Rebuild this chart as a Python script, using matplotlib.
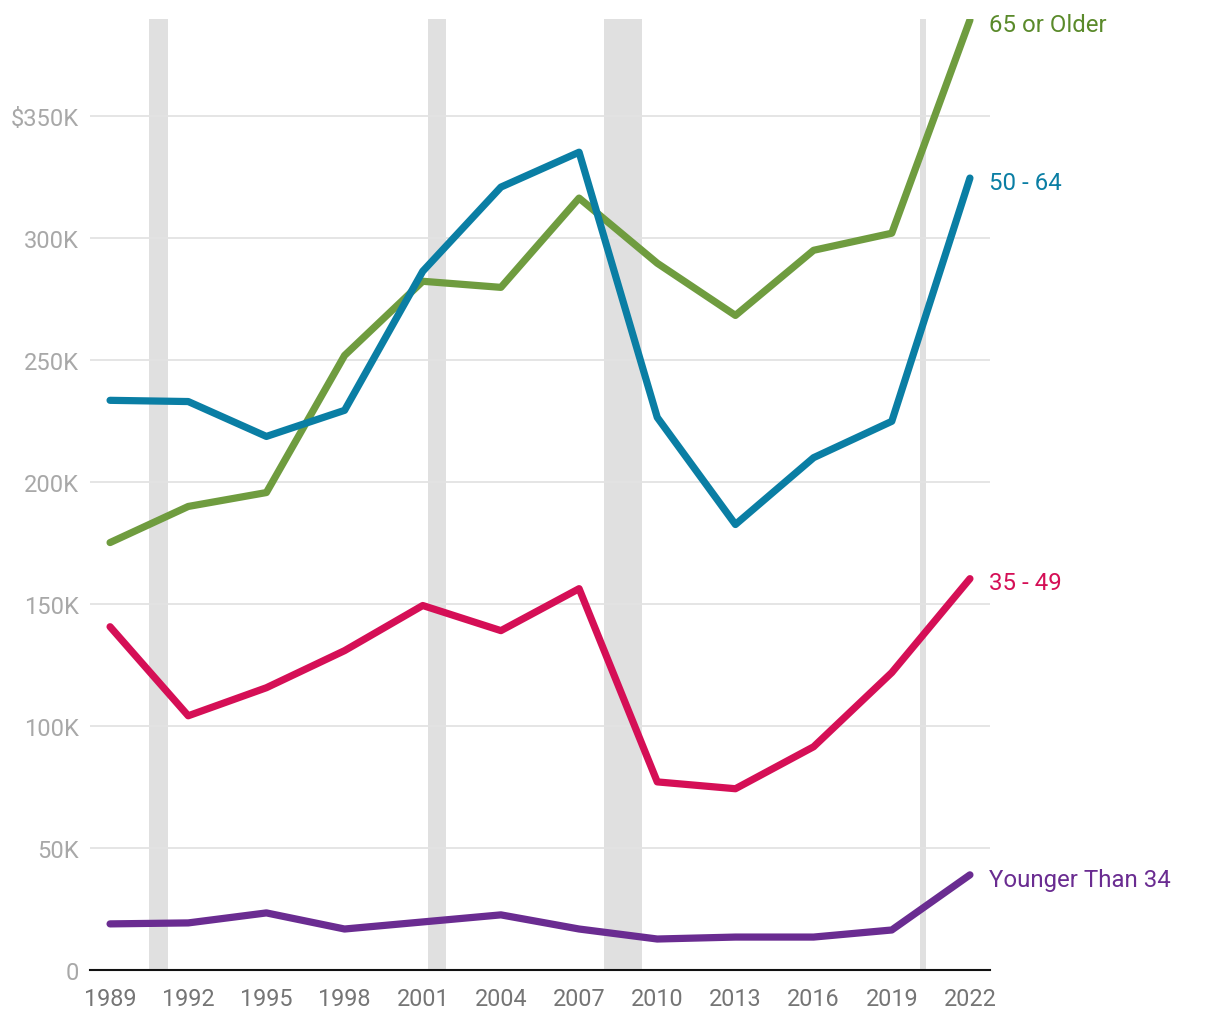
import matplotlib.pyplot as plt

plt.rcParams['font.family'] = ['Roboto', 'DejaVu Sans']

years = [1989, 1992, 1995, 1998, 2001, 2004, 2007, 2010, 2013, 2016, 2019, 2022]

older_65 = [175.2, 190.0, 195.7, 251.9, 282.3, 279.8, 316.4, 289.7, 268.3, 295.0, 302.0, 389.4]
age_50_64 = [233.5, 233.0, 218.7, 229.4, 286.4, 320.9, 335.2, 226.5, 182.6, 210.0, 224.9, 324.6]
age_35_49 = [140.7, 104.2, 115.7, 130.9, 149.4, 139.1, 156.3, 77.1, 74.3, 91.5, 121.9, 160.4]
under_34 = [18.9, 19.3, 23.4, 16.8, 19.7, 22.6, 16.8, 12.7, 13.5, 13.5, 16.4, 39.0]

series_names = ['65 or Older', '50 - 64', '35 - 49', 'Younger Than 34']
series_colors = ['#6f9c3f', '#0a7ea4', '#d50f56', '#6a2c91']
label_colors = ['#5a8a2a', '#0a7ea4', '#d50f56', '#6a2c91']

# recessions (start, end) in fractional years
recessions = [(1990.5, 1991.23), (2001.2, 2001.9), (2007.95, 2009.42), (2020.08, 2020.3)]

yticks = [0, 50, 100, 150, 200, 250, 300, 350]
ytick_labels = ['0', '50K', '100K', '150K', '200K', '250K', '300K', '$350K']

fig = plt.figure(figsize=(12.2, 10.2), dpi=100)
ax = fig.add_axes([90 / 1220, 1 - 971 / 1020, 900 / 1220, 951 / 1020])

for start, end in recessions:
    ax.axvspan(start, end, color='#e0e0e0', lw=0, zorder=0)

for y in yticks[1:]:
    ax.axhline(y, color='#e3e3e3', lw=1.3, zorder=1)

all_series = [older_65, age_50_64, age_35_49, under_34]
for vals, name, c, lc in zip(all_series, series_names, series_colors, label_colors):
    ax.plot(years, vals, color=c, lw=5.2, solid_capstyle='round', solid_joinstyle='round', zorder=3)
    ax.annotate(name, (years[-1], vals[-1]), xytext=(14, -3), textcoords='offset points',
                color=lc, fontsize=17.3, va='center', ha='left', annotation_clip=False)

ax.set_xlim(1988.23, 2022.77)
ax.set_ylim(0, 389.8)
ax.set_xticks(years)
ax.set_xticklabels([str(y) for y in years])
ax.set_yticks(yticks)
ax.set_yticklabels(ytick_labels)
ax.tick_params(axis='x', length=0, labelsize=16.8, labelcolor='#757575', pad=12)
ax.tick_params(axis='y', length=0, labelsize=17, labelcolor='#a8a8a8', pad=8)

for side in ['top', 'right', 'left']:
    ax.spines[side].set_visible(False)
ax.spines['bottom'].set_color('#111111')
ax.spines['bottom'].set_linewidth(1.5)
ax.spines['bottom'].set_zorder(4)

fig.savefig('out.png', dpi=100)
